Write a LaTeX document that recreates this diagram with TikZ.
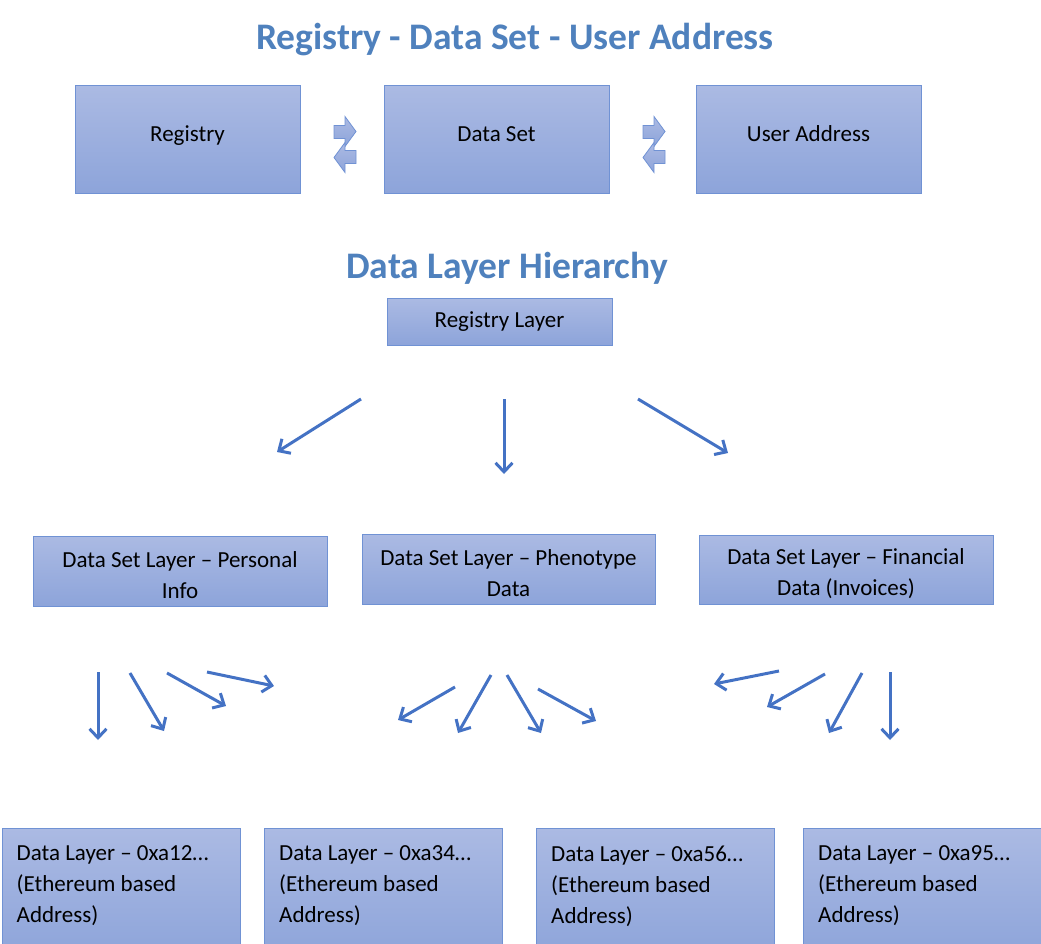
\documentclass[tikz,border=0pt]{standalone}
\usepackage{fontspec}
\setmainfont{Carlito}
\usepackage{xcolor}
\usepackage{tikz}
\usetikzlibrary{arrows.meta}

\definecolor{headblue}{RGB}{79,129,189}
\definecolor{flowblue}{RGB}{68,114,196}
\definecolor{boxtop}{RGB}{171,186,227}
\definecolor{boxbot}{RGB}{141,164,218}
\definecolor{boxline}{RGB}{112,146,212}

\begin{document}
\begin{tikzpicture}[x=1pt, y=-1pt,
        box/.style={draw=boxline, line width=1pt, top color=boxtop, bottom color=boxbot,
            font=\fontsize{23}{31}\selectfont, align=center, inner sep=0},
        heading/.style={text=headblue, font=\fontsize{37.5}{42}\selectfont\bfseries},
        leaftext/.style={anchor=north west, inner sep=0, align=left,
            font=\fontsize{23}{31}\selectfont},
        flow/.style={draw=flowblue, line width=3pt, -{Straight Barb[length=9pt,width=17pt]}},
        swapfill/.style={draw=boxline, line width=0.8pt, top color=boxtop, bottom color=boxbot},
        swap/.pic={
            \path[swapfill] (-11,-19) -- (0,-19) -- (0,-28) -- (11,-13) -- (0,2) -- (0,-6) -- (-11,-6) -- cycle;
            \path[swapfill] (11,19) -- (0,19) -- (0,28) -- (-11,13) -- (0,-2) -- (0,6) -- (11,6) -- cycle;
        }]
    \useasboundingbox (0,0) rectangle (1041,943);

    % Registry - Data Set - User Address
    \node[heading] (title1) at (515,40) {Registry - Data Set - User Address};
    \node[box, minimum width=225pt, minimum height=108pt, text depth=10pt] (reg) at (187.5,139) {Registry};
    \node[box, minimum width=225pt, minimum height=108pt, text depth=10pt] (dset) at (496.5,139) {Data Set};
    \node[box, minimum width=225pt, minimum height=108pt, text depth=10pt] (addr) at (808.5,139) {User Address};
    \pic at (345,144.5) {swap};
    \pic at (654,144.5) {swap};

    % Data Layer Hierarchy
    \node[heading] (title2) at (507,268) {Data Layer Hierarchy};
    \node[box, minimum width=225pt, minimum height=47pt] (reglayer) at (499.5,321.5) {Registry Layer};

    \node[box, minimum width=294pt, minimum height=70pt] (personal) at (180,571)
        {\rule{0pt}{24pt}Data Set Layer -- Personal\\Info};
    \node[box, minimum width=293pt, minimum height=70pt] (pheno) at (508.5,569)
        {\rule{0pt}{24pt}Data Set Layer -- Phenotype\\Data};
    \node[box, minimum width=294pt, minimum height=69pt] (finance) at (846,569.5)
        {\rule{0pt}{24pt}Data Set Layer -- Financial\\Data (Invoices)};

    % address layer, boxes run off the bottom edge
    \foreach \nm/\cx/\hex in {leafa/121/12, leafb/383.5/34, leafc/655.5/56, leafd/922.5/95} {
        \node[box, minimum width=238pt, minimum height=130pt] (\nm) at (\cx,893) {};
        \node[leaftext] (\nm-txt) at ([shift={(15,18)}]\nm.north west)
            {Data Layer -- 0xa\hex\char"2026\\(Ethereum based\\Address)};
    }

    % arrows
    \foreach \nm/\sa/\sb in {
        ta/{361,399}/{277,452}, tb/{504,399}/{504,474}, tc/{638,399}/{728,453},
        pa/{98,672}/{98,740}, pb/{130,673}/{164,731}, pc/{167,673}/{226,706}, pd/{207,672}/{274,686},
        qa/{455,687}/{398,720}, qb/{491,675}/{458,733}, qc/{507,675}/{541,733}, qd/{538,689}/{596,721},
        fa/{779,671}/{714,684}, fb/{825,674}/{767,707}, fc/{862,673}/{829,733}, fd/{890,672}/{890,740}} {
        \coordinate (\nm-s) at (\sa);
        \coordinate (\nm-e) at (\sb);
        \draw[flow] (\nm-s) -- (\nm-e);
    }
\end{tikzpicture}
\end{document}
